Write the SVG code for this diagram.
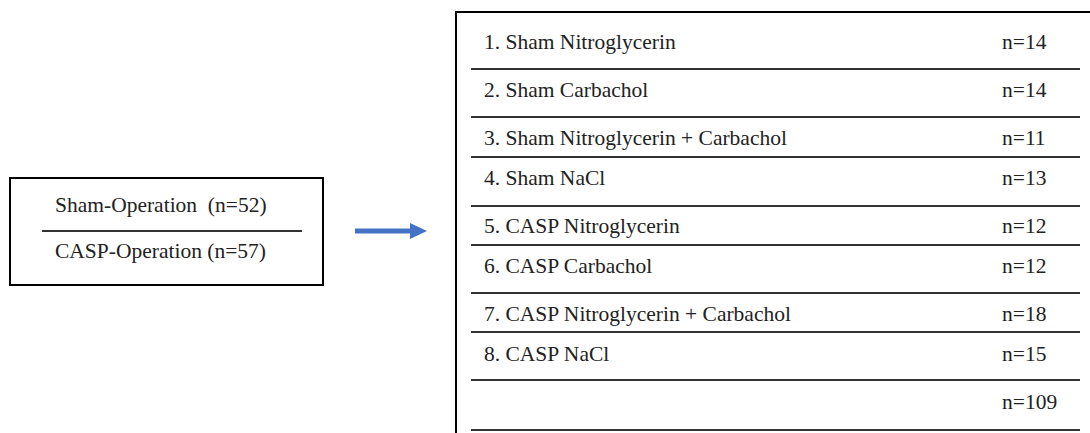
<svg xmlns="http://www.w3.org/2000/svg" width="1090" height="433" viewBox="0 0 1090 433">
<style>
.t{font-family:'Liberation Serif','DejaVu Serif',serif;font-size:21.5px;fill:#222;white-space:pre}
.box{fill:#fff;stroke:#000;stroke-width:2}
.sep{stroke:#333;stroke-width:2}
</style>
<rect width="1090" height="433" fill="#fff"/>
<g id="operations">
<rect class="box" x="10" y="178" width="313" height="107"/>
<line class="sep" x1="42" y1="231" x2="302" y2="231"/>
<text class="t" x="55" y="212" xml:space="preserve">Sham-Operation  (n=52)</text>
<text class="t" x="55" y="258">CASP-Operation (n=57)</text>
</g>
<g id="connectors">
<path d="M355 228.5 H410 V223 L427 231 L410 239 V233.5 H355 Z" fill="#4472C4"/>
</g>
<g id="groups">
<path d="M1090 12 H456 V433" fill="none" stroke="#000" stroke-width="2"/>
<g class="sep">
<line x1="471" y1="69" x2="1080" y2="69"/>
<line x1="471" y1="117" x2="1080" y2="117"/>
<line x1="471" y1="157" x2="1080" y2="157"/>
<line x1="471" y1="206" x2="1080" y2="206"/>
<line x1="471" y1="245" x2="1080" y2="245"/>
<line x1="471" y1="293" x2="1080" y2="293"/>
<line x1="471" y1="332" x2="1080" y2="332"/>
<line x1="471" y1="380" x2="1080" y2="380"/>
<line x1="471" y1="430" x2="1080" y2="430"/>
</g>
<text class="t" x="484" y="49">1. Sham Nitroglycerin</text>
<text class="t" x="484" y="97">2. Sham Carbachol</text>
<text class="t" x="484" y="145">3. Sham Nitroglycerin + Carbachol</text>
<text class="t" x="484" y="185">4. Sham NaCl</text>
<text class="t" x="484" y="233">5. CASP Nitroglycerin</text>
<text class="t" x="484" y="273">6. CASP Carbachol</text>
<text class="t" x="484" y="321">7. CASP Nitroglycerin + Carbachol</text>
<text class="t" x="484" y="361">8. CASP NaCl</text>
<text class="t" x="1002" y="49">n=14</text>
<text class="t" x="1002" y="97">n=14</text>
<text class="t" x="1002" y="145">n=11</text>
<text class="t" x="1002" y="185">n=13</text>
<text class="t" x="1002" y="233">n=12</text>
<text class="t" x="1002" y="273">n=12</text>
<text class="t" x="1002" y="321">n=18</text>
<text class="t" x="1002" y="361">n=15</text>
<text class="t" x="1002" y="409">n=109</text>
</g>
</svg>
